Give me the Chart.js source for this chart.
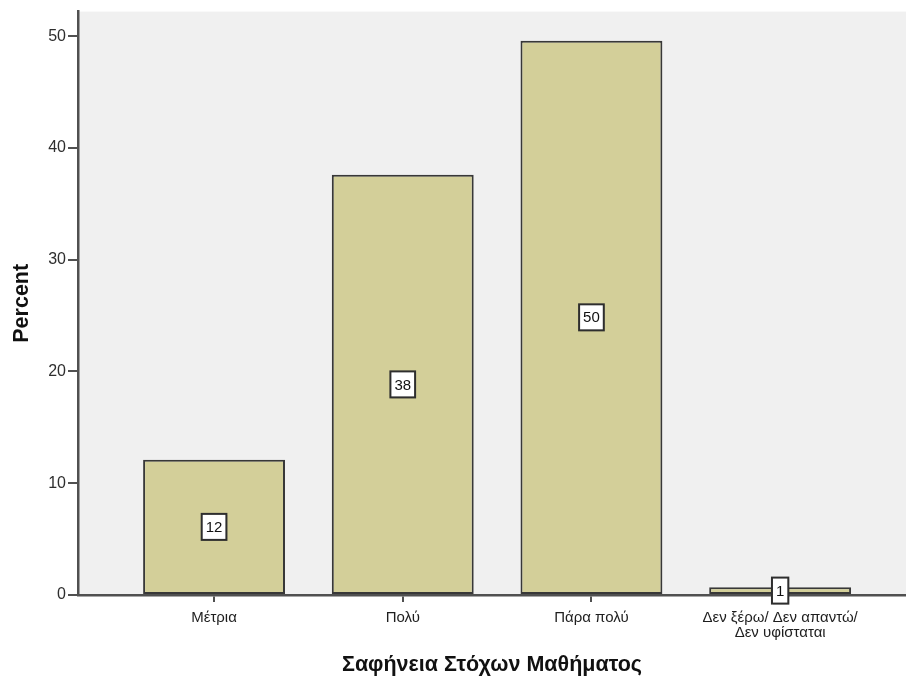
<!DOCTYPE html>
<html lang="el">
<head>
<meta charset="UTF-8">
<title>Σαφήνεια Στόχων Μαθήματος</title>
<script src="https://cdn.jsdelivr.net/npm/chart.js@4.4.0/dist/chart.umd.min.js"></script>
<style>
    body { margin: 0; padding: 0; background: #fff; }
    #chart { display: block; }
</style>
</head>
<body>
<canvas id="chart" width="906" height="682"></canvas>
<script>
    // data (percent of respondents)
    const categories = ['Μέτρια', 'Πολύ', 'Πάρα πολύ', ['Δεν ξέρω/ Δεν απαντώ/', 'Δεν υφίσταται']];
    const percents = [12.1, 37.6, 49.6, 0.7];
    const yTicks = [0, 10, 20, 30, 40, 50];

    const font = 'Arial, "Liberation Sans", sans-serif';
    const axisColor = '#505050';

    // light gray plot background
    const plotBackground = {
        id: 'plotBackground',
        beforeDraw(chart) {
            const { ctx, chartArea: a } = chart;
            ctx.save();
            ctx.fillStyle = '#f0f0f0';
            ctx.fillRect(a.left, a.top, a.right - a.left, a.bottom - a.top);
            ctx.restore();
        }
    };

    // boxed value labels in the middle of each bar
    const boxLabels = {
        id: 'boxLabels',
        afterDatasetsDraw(chart) {
            const ctx = chart.ctx;
            const meta = chart.getDatasetMeta(0);
            ctx.save();
            ctx.font = '15px ' + font;
            ctx.textAlign = 'center';
            ctx.textBaseline = 'middle';
            meta.data.forEach((bar, i) => {
                const text = String(Math.round(percents[i]));
                const w = ctx.measureText(text).width + 8;
                const h = 26;
                const cx = bar.x;
                const cy = (bar.y + bar.base) / 2;
                ctx.fillStyle = 'rgba(0,0,0,0.15)';
                ctx.fillRect(cx - w / 2 + 1, cy - h / 2 + 1, w, h);
                ctx.fillStyle = '#ffffff';
                ctx.fillRect(cx - w / 2, cy - h / 2, w, h);
                ctx.strokeStyle = '#2e2e2e';
                ctx.lineWidth = 2;
                ctx.strokeRect(cx - w / 2, cy - h / 2, w, h);
                ctx.fillStyle = '#111111';
                ctx.fillText(text, cx, cy + 1);
            });
            ctx.restore();
        }
    };

    new Chart(document.getElementById('chart'), {
        type: 'bar',
        data: {
            datasets: [{
                data: percents.map((v, i) => ({ x: i + 1, y: v })),
                backgroundColor: '#d3cf99',
                borderColor: '#383838',
                borderWidth: 2,
                borderSkipped: false,
                barPercentage: 1,
                categoryPercentage: 0.752
            }]
        },
        options: {
            responsive: false,
            animation: false,
            layout: { padding: { top: 9, right: 0, left: 0, bottom: 0 } },
            plugins: {
                legend: { display: false },
                tooltip: { enabled: false }
            },
            scales: {
                x: {
                    type: 'linear',
                    offset: false,
                    min: 0.279,
                    max: 4.667,
                    afterFit(scale) { scale.height = 87; },
                    afterBuildTicks(scale) {
                        scale.ticks = categories.map((c, i) => ({ value: i + 1 }));
                    },
                    ticks: {
                        autoSkip: false,
                        maxRotation: 0,
                        padding: 8,
                        color: '#1e1e1e',
                        font: { family: font, size: 15, lineHeight: 1 },
                        callback: (v) => categories[v - 1]
                    },
                    grid: {
                        offset: false,
                        drawOnChartArea: false,
                        tickLength: 7,
                        color: axisColor,
                        lineWidth: 2
                    },
                    border: { color: axisColor, width: 2.5 },
                    title: {
                        display: true,
                        text: 'Σαφήνεια Στόχων Μαθήματος',
                        color: '#111111',
                        font: { family: font, size: 21.5, weight: 'bold' },
                        padding: { top: 0, bottom: 4 }
                    }
                },
                y: {
                    min: 0,
                    max: 52.2,
                    afterFit(scale) { scale.width = 78; },
                    afterBuildTicks(scale) {
                        scale.ticks = yTicks.map(v => ({ value: v }));
                    },
                    ticks: {
                        padding: 2,
                        color: '#2e2e2e',
                        font: { family: font, size: 16 }
                    },
                    grid: {
                        drawOnChartArea: false,
                        tickLength: 10,
                        color: axisColor,
                        lineWidth: 2
                    },
                    border: { color: axisColor, width: 2.5 },
                    title: {
                        display: true,
                        text: 'Percent',
                        color: '#111111',
                        font: { family: font, size: 21.5, weight: 'bold' },
                        padding: { top: 9, bottom: 0 }
                    }
                }
            }
        },
        plugins: [plotBackground, boxLabels]
    });
</script>
</body>
</html>
